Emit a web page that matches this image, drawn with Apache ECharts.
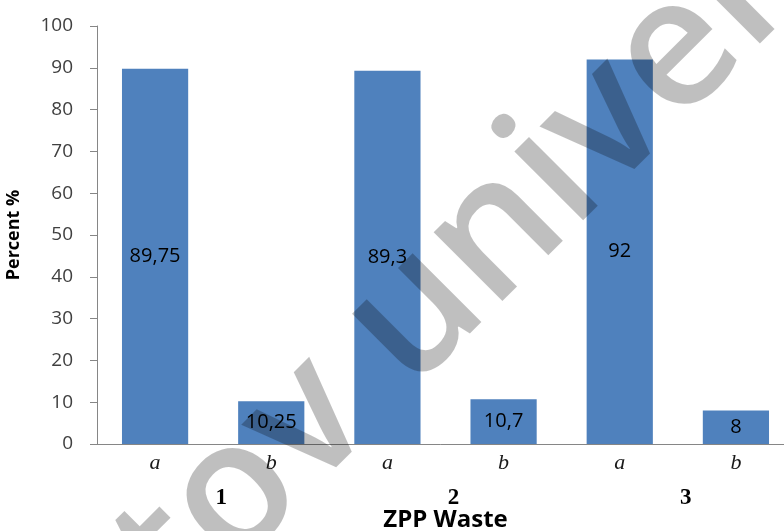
<!DOCTYPE html>
<html>
<head>
<meta charset="utf-8">
<style>
  html, body { margin: 0; padding: 0; background: #ffffff; }
  #chart { width: 784px; height: 531px; }
</style>
<script src="https://cdn.jsdelivr.net/npm/echarts@6/dist/echarts.min.js"></script>
</head>
<body>
<div id="chart"></div>
<script>
// Sample labels within each waste group, and the groups themselves
var categories = ['a', 'b', 'a', 'b', 'a', 'b'];
var groups = ['1', '2', '3'];
// Percentages per sample
var values = [89.75, 10.25, 89.3, 10.7, 92, 8];
// Value axis range
var yMin = 0, yMax = 100, yStep = 10;

var chart = echarts.init(document.getElementById('chart'), null, { renderer: 'canvas' });

var axisGray = '#868686';
var sans = '"Open Sans", "Noto Sans", sans-serif';
var serif = '"Liberation Serif", "DejaVu Serif", serif';

chart.setOption({
  animation: false,
  backgroundColor: '#ffffff',
  grid: {
    left: 97, right: -10, top: 26, bottom: 87,
    containLabel: false,
    outerBoundsMode: 'none'
  },
  xAxis: [
    {
      type: 'category',
      data: categories,
      boundaryGap: true,
      axisLine: { show: true, lineStyle: { color: axisGray, width: 1 } },
      axisTick: { show: false },
      axisLabel: {
        margin: 8,
        fontFamily: serif,
        fontStyle: 'italic',
        fontSize: 22,
        color: '#1a1a1a'
      },
      name: 'ZPP Waste',
      nameLocation: 'middle',
      nameGap: 64,
      nameTextStyle: { fontFamily: sans, fontWeight: 'bold', fontSize: 24, color: '#000000' }
    },
    {
      type: 'category',
      data: groups,
      position: 'bottom',
      offset: 36,
      boundaryGap: true,
      axisLine: { show: false },
      axisTick: { show: false },
      axisLabel: {
        margin: 7,
        fontFamily: serif,
        fontWeight: 'bold',
        fontSize: 23,
        color: '#000000',
        padding: [0, 0, 0, 16]
      }
    }
  ],
  yAxis: {
    type: 'value',
    min: yMin,
    max: yMax,
    interval: yStep,
    axisLine: { show: true, lineStyle: { color: axisGray, width: 1 } },
    axisTick: { show: true, inside: false, length: 7, lineStyle: { color: axisGray } },
    splitLine: { show: false },
    axisLabel: { margin: 24, fontFamily: sans, fontSize: 19, color: '#404040' },
    name: 'Percent %',
    nameLocation: 'middle',
    nameGap: 74,
    nameRotate: 90,
    nameTextStyle: { fontFamily: sans, fontWeight: 'bold', fontSize: 18, color: '#000000' }
  },
  series: [
    {
      type: 'bar',
      xAxisIndex: 0,
      data: values,
      barWidth: '57%',
      itemStyle: { color: '#4F81BD' },
      label: {
        show: true,
        position: 'inside',
        fontFamily: sans,
        fontSize: 20,
        color: '#000000',
        formatter: function (p) { return String(p.value).replace('.', ','); }
      }
    }
  ],
  graphic: [
    {
      type: 'text',
      x: 457,
      y: 274,
      rotation: Math.PI / 4,
      z: 100,
      silent: true,
      style: {
        text: 'tov univer',
        fontFamily: sans,
        fontSize: 180,
        fontWeight: 600,
        fill: 'rgba(0,0,0,0.25)',
        textAlign: 'center',
        textVerticalAlign: 'middle'
      }
    }
  ]
});
</script>
</body>
</html>
